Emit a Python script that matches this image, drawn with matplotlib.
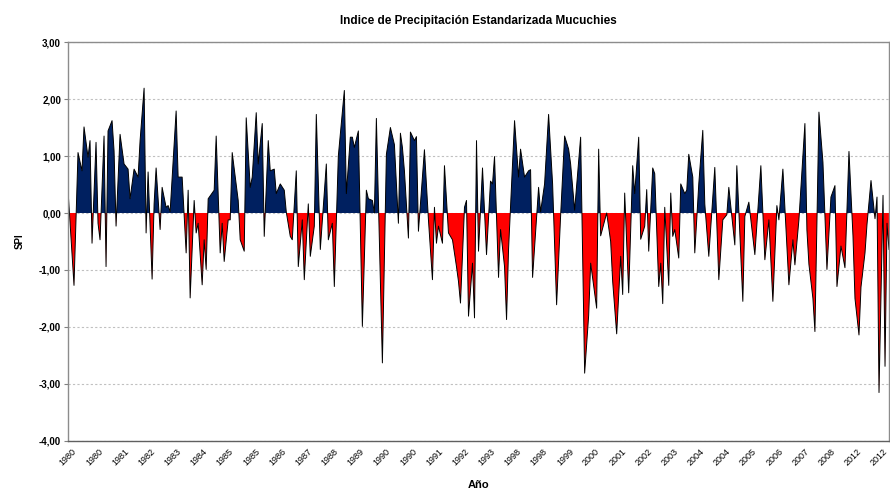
import matplotlib
matplotlib.use("Agg")
import matplotlib.pyplot as plt
import numpy as np

plt.rcParams['font.family'] = ['Liberation Sans', 'DejaVu Sans']

# month index (0 = start of 1980) and SPI value
mes = [0, 3, 5, 7, 8, 10, 11, 12, 14, 15, 16, 18, 19, 20, 22, 23, 24, 26, 28, 30,
       31, 33, 35, 36, 38, 39, 40, 42, 43, 44, 46, 47, 49, 50, 51, 54, 55, 57, 59, 60,
       61, 63, 64, 65, 67, 68, 69, 70, 73, 74, 76, 77, 78, 80, 81, 82, 85, 86, 88, 89,
       91, 92, 94, 95, 97, 98, 100, 101, 103, 104, 106, 108, 109, 111, 112, 114, 115, 117, 118, 120,
       121, 123, 124, 126, 129, 130, 132, 133, 135, 138, 139, 141, 142, 143, 145, 147, 149, 150, 152, 153,
       154, 157, 159, 161, 163, 165, 166, 167, 168, 170, 171, 173, 174, 175, 178, 180, 182, 183, 184, 185,
       187, 188, 190, 192, 194, 195, 196, 198, 199, 200, 202, 203, 204, 205, 207, 209, 211, 212, 213, 215,
       216, 218, 219, 220, 223, 225, 226, 228, 230, 231, 232, 235, 236, 238, 240, 242, 244, 246, 248, 250,
       251, 253, 256, 258, 260, 261, 264, 265, 266, 269, 271, 272, 274, 276, 277, 278, 280, 282, 283, 285,
       286, 288, 289, 290, 292, 293, 295, 296, 297, 298, 300, 301, 302, 303, 305, 306, 308, 309, 310, 312,
       313, 315, 317, 318, 320, 323, 325, 327, 329, 330, 333, 334, 337, 338, 340, 343, 346, 348, 350, 352,
       354, 355, 357, 360, 362, 363, 365, 368, 369, 370, 372, 373, 375, 377, 379, 381, 383, 384, 386, 388,
       390, 392, 393, 395, 396, 398, 399, 401, 403, 404, 405, 407, 408, 409, 410]

spi = [0.40, -1.27, 1.06, 0.74, 1.51, 0.98, 1.27, -0.53, 1.24, -0.18, -0.47, 1.35, -0.94, 1.44, 1.62, 1.09, -0.23, 1.38, 0.86, 0.77,
       0.25, 0.77, 0.63, 1.27, 2.19, -0.35, 0.72, -1.16, 0.16, 0.79, -0.29, 0.45, 0.10, 0.13, 0.02, 1.79, 0.63, 0.63, -0.70, 0.40,
       -1.49, 0.22, -0.35, -0.18, -1.26, -0.47, -0.99, 0.25, 0.40, 1.35, -0.70, -0.18, -0.85, -0.12, -0.12, 1.06, 0.22, -0.47, -0.67, 1.67,
       0.45, 0.63, 1.76, 0.86, 1.57, -0.41, 1.27, 0.74, 0.77, 0.34, 0.51, 0.40, 0.02, -0.41, -0.47, 0.74, -0.94, -0.12, -1.17, 0.16,
       -0.76, -0.23, 1.73, -0.64, 0.86, -0.47, -0.18, -1.29, 1.00, 2.15, 0.34, 1.33, 1.33, 1.15, 1.44, -1.99, 0.40, 0.25, 0.22, 0.00,
       1.66, -2.63, 1.03, 1.50, 1.20, -0.18, 1.40, 1.15, 0.74, -0.44, 1.42, 1.27, 1.34, -0.32, 1.11, -0.12, -1.17, 0.10, -0.53, -0.23,
       -0.53, 0.83, -0.35, -0.47, -0.94, -1.20, -1.58, 0.10, 0.22, -1.81, -0.88, -1.84, 1.27, -0.67, 0.79, -0.73, 0.56, 0.51, 0.99, -1.13,
       -0.29, -0.94, -1.87, -0.64, 1.62, 0.63, 1.12, 0.63, 0.74, 0.76, -1.13, 0.45, 0.02, 0.51, 1.73, 0.51, -1.61, -0.05, 1.35, 1.12,
       0.86, 0.05, 1.33, -2.81, -1.80, -0.88, -1.67, 1.12, -0.40, 0.00, -0.50, -1.20, -2.12, -0.76, -1.43, 0.35, -1.40, 0.83, 0.34, 1.33,
       -0.46, -0.23, 0.41, -0.67, 0.79, 0.69, -1.29, -0.88, -1.59, 0.10, -1.27, 0.35, -0.41, -0.29, -0.79, 0.51, 0.34, 0.40, 1.03, 0.63,
       -0.70, 0.51, 1.45, 0.16, -0.76, 0.80, -1.17, -0.12, -0.03, 0.45, -0.56, 0.83, -1.55, -0.06, 0.19, -0.73, 0.83, -0.82, -0.12, -1.55,
       0.13, -0.12, 0.77, -1.26, -0.47, -0.91, -0.12, 1.57, -0.30, -0.90, -1.50, -2.08, 1.77, 0.89, -0.99, 0.28, 0.48, -1.29, -0.58, -0.96,
       1.08, -0.40, -1.50, -2.14, -1.30, -0.70, -0.20, 0.57, -0.10, 0.28, -3.15, 0.31, -2.69, -0.18, -0.64]

anios = ['1980', '1980', '1981', '1982', '1983', '1984', '1985', '1985', '1986', '1987',
         '1988', '1989', '1990', '1990', '1991', '1992', '1993', '1998', '1998', '1999',
         '2000', '2001', '2002', '2003', '2004', '2004', '2005', '2006', '2007', '2008',
         '2012', '2012']

x = np.array(mes, dtype=float)
y = np.array(spi)
n_mes = mes[-1]

fig = plt.figure(figsize=(8.9, 4.92), dpi=100)
ax = fig.add_axes([0.0764, 0.1037, 0.9225, 0.8109])

ax.fill_between(x, y, 0, where=y >= 0, interpolate=True, color='#002060', linewidth=0)
ax.fill_between(x, y, 0, where=y <= 0, interpolate=True, color='#FF0000', linewidth=0)
ax.plot(x, y, color='black', linewidth=0.7)

ax.set_xlim(0, n_mes)
ax.set_ylim(-4, 3)
yt = np.arange(-4, 4, 1)
ax.set_yticks(yt)
ax.set_yticklabels([('%.2f' % v).replace('.', ',') for v in yt],
                   fontsize=7, fontweight='bold')
ax.yaxis.grid(True, color='#C0C0C0', linestyle=(0, (2, 2)), linewidth=0.8)
ax.set_axisbelow(True)

# category labels, Excel style: one every few months
ax.set_xticks(np.linspace(2, n_mes - 3, len(anios)))
ax.set_xticklabels(anios, rotation=45, ha='right', rotation_mode='anchor', fontsize=6.5)
ax.tick_params(axis='x', length=0, pad=4)
ax.tick_params(axis='y', length=3, color='#808080', pad=2)

for s in ax.spines.values():
    s.set_color('#8C8C8C')
    s.set_linewidth(1.0)
ax.spines['bottom'].set_color('#606060')

ax.set_ylabel('SPI', fontsize=7, fontweight='bold', labelpad=10)
ax.set_xlabel('Año', fontsize=8, fontweight='bold', labelpad=9)
ax.set_title('Indice de Precipitación Estandarizada Mucuchies', fontsize=8.5,
             fontweight='bold', pad=13)

fig.savefig('out.png', dpi=100)
